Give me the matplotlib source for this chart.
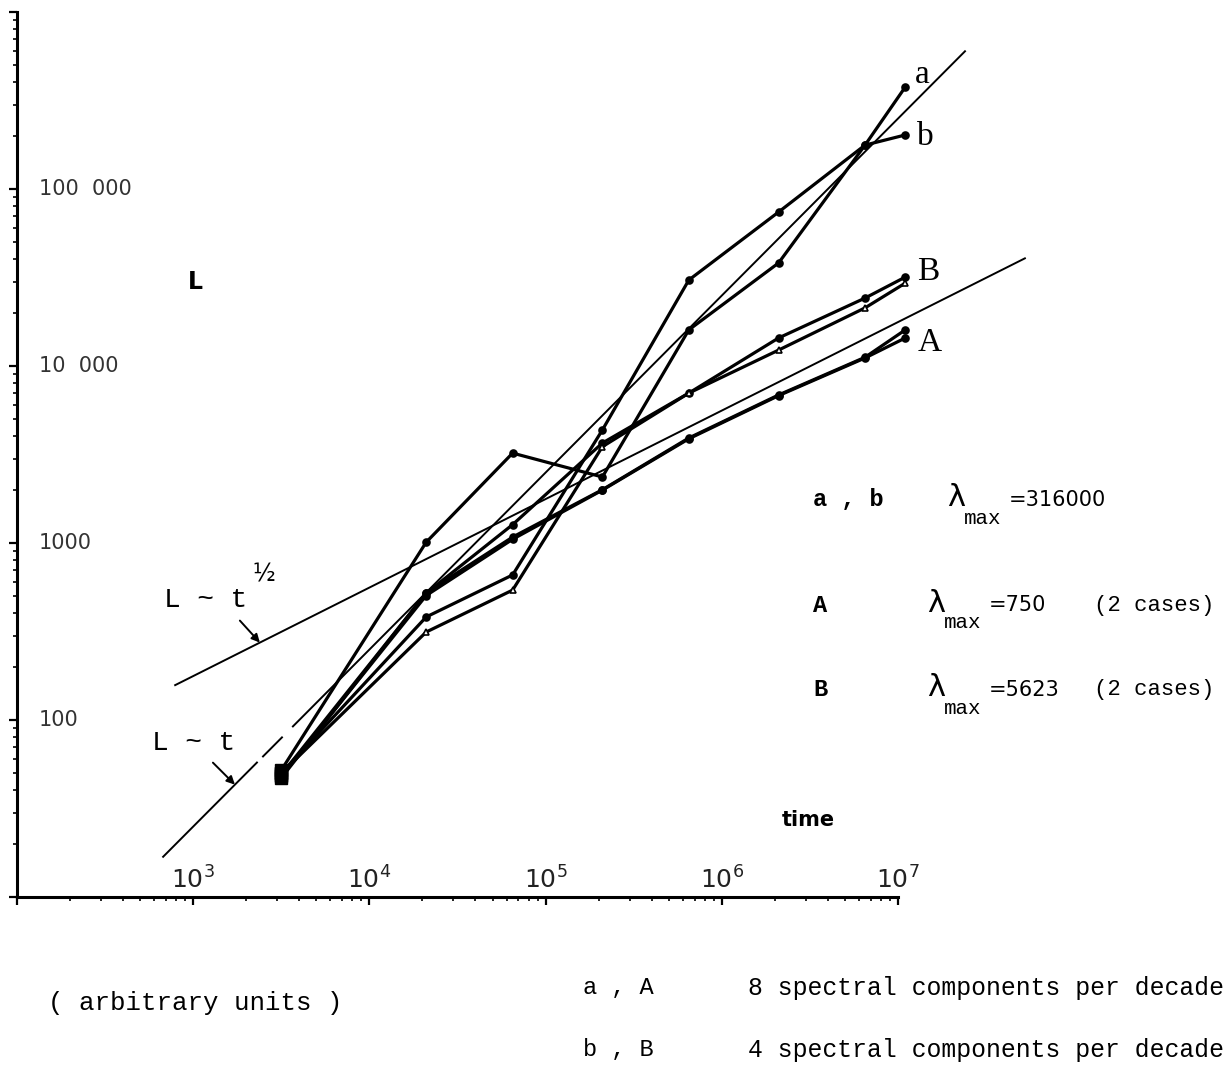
import numpy as np
import matplotlib.pyplot as plt
from matplotlib.transforms import blended_transform_factory
from matplotlib.ticker import LogLocator, NullFormatter

# sampling times (arbitrary units)
t = [3160, 21000, 65000, 210000, 650000, 2100000, 6500000, 11000000]

# length L of each run
L_a = [52, 1010, 3220, 2360, 16000, 38200, 177000, 377000]
L_b = [50, 382, 660, 4350, 30600, 74100, 177000, 202000]
L_A1 = [47, 523, 1080, 2000, 3920, 6860, 11200, 16000]
L_A2 = [48, 505, 1050, 1990, 3880, 6800, 11100, 14400]
L_B1 = [49, 520, 1270, 3670, 7030, 14400, 24200, 31800]
L_B2 = [50, 314, 542, 3500, 7030, 12300, 21300, 29400]

# reference laws  L = k t  and  L = c t^1/2
k_lin = 1 / 40
t_lin = [(675, 2300), (2490, 3190), (3680, 2.4e7)]
c_sqrt = 5.6
t_sqrt = (790, 5.25e7)

W, H = 1231, 1068
mono = 'Liberation Mono'


def px(x, y):
    return x / W, 1 - y / H


fig = plt.figure(figsize=(W / 100, H / 100), dpi=100)
ax = fig.add_axes([17 / W, 1 - 897 / H, 881 / W, 885 / H])
ax.set_xscale('log')
ax.set_yscale('log')
ax.set_xlim(1e2, 1e7)
ax.set_ylim(1e1, 1e6)
for s in ('top', 'right'):
    ax.spines[s].set_visible(False)
for s in ('left', 'bottom'):
    ax.spines[s].set_linewidth(2.2)
for axis in (ax.xaxis, ax.yaxis):
    axis.set_major_locator(LogLocator(10, numticks=10))
    axis.set_minor_locator(LogLocator(10, subs=np.arange(2, 10), numticks=100))
    axis.set_minor_formatter(NullFormatter())
ax.tick_params(which='major', length=6, width=1.6, direction='out',
               labelbottom=False, labelleft=False)
ax.tick_params(which='minor', length=3, width=1.2, direction='out')

# reference lines
for t0, t1 in t_lin:
    ax.plot([t0, t1], [k_lin * t0, k_lin * t1], color='black', lw=1.4, clip_on=False)
ax.plot(t_sqrt, [c_sqrt * v ** 0.5 for v in t_sqrt], color='black', lw=1.4, clip_on=False)

# simulated runs
runs = [(L_a, 'o', 'black'), (L_b, 'o', 'black'),
        (L_A1, 'o', 'black'), (L_A2, 'o', 'black'),
        (L_B1, 'o', 'black'), (L_B2, '^', 'white')]
for L, m, fc in runs:
    ax.plot(t, L, color='black', lw=2.3, marker=m, ms=5, mfc=fc, mew=1.2,
            clip_on=False, solid_joinstyle='round')
    ax.plot(t[0], L[0], 's', color='black', ms=8, clip_on=False)

# curve labels at the last point
for L, lab, off in [(L_a, 'a', (10, 12)), (L_b, 'b', (12, -2)),
                    (L_B1, 'B', (12, 5)), (L_A1, 'A', (12, -13))]:
    ax.annotate(lab, xy=(t[-1], L[-1]), xytext=off, textcoords='offset pixels',
                ha='left', va='center', family='Liberation Serif', fontsize=24,
                annotation_clip=False)

# law labels with arrows
arrow = dict(arrowstyle='-|>', color='black', lw=1.4, mutation_scale=12,
             shrinkA=0, shrinkB=0)
t_arr = 2390
ax.annotate('', xy=(t_arr, c_sqrt * t_arr ** 0.5), xytext=(-20, 22),
            textcoords='offset pixels', arrowprops=arrow)
fig.text(*px(247, 600), 'L ~ t', family=mono, fontsize=20, ha='right', va='center')
fig.text(*px(252, 574), '½', family='DejaVu Sans', fontsize=17, ha='left', va='center')
t_arr2 = 1725
ax.annotate('', xy=(t_arr2, k_lin * t_arr2), xytext=(-22, 22),
            textcoords='offset pixels', arrowprops=arrow)
fig.text(*px(235, 743), 'L ~ t', family=mono, fontsize=20, ha='right', va='center')

# axis tick labels drawn inside the frame
bx = blended_transform_factory(ax.transData, ax.transAxes)
for e in range(3, 8):
    ax.text(10.0 ** e, 0.004, r'$\mathregular{10^{%d}}$' % e, transform=bx,
            ha='center', va='bottom', fontsize=18, color='#222222')
by = blended_transform_factory(ax.transAxes, ax.transData)
for v, s in [(1e5, '100  000'), (1e4, '10  000'), (1e3, '1000'), (1e2, '100')]:
    ax.text(0.025, v, s, transform=by, ha='left', va='center',
            fontsize=15, color='#333333')

fig.text(*px(195, 282), 'L', fontsize=17, weight='bold', ha='center', va='center')
fig.text(*px(808, 820), 'time', fontsize=15, weight='bold', ha='center', va='center')

# legend block
rows = [(500, 'a , b', 947, '=316000', ''),
        (605, 'A', 927, '=750', '(2 cases)'),
        (690, 'B', 927, '=5623', '(2 cases)')]
for y, lab, xl, val, note in rows:
    fig.text(*px(813, y), lab, family=mono, fontsize=17, weight='bold', va='center')
    fig.text(*px(xl, y - 2), 'λ', family='DejaVu Sans', fontsize=22, va='center')
    fig.text(*px(xl + 17, y + 18), 'max', family=mono, fontsize=15, va='center')
    fig.text(*px(xl + 62, y), val, family='DejaVu Sans', fontsize=15, va='center')
    if note:
        fig.text(*px(1094, y), note, family=mono, fontsize=16, va='center')

fig.text(*px(48, 1003), '( arbitrary units )', family=mono, fontsize=18.5, va='center')
fig.text(*px(583, 988), 'a , A', family=mono, fontsize=17, va='center')
fig.text(*px(748, 988), '8 spectral components per decade', family=mono, fontsize=17.8, va='center')
fig.text(*px(583, 1050), 'b , B', family=mono, fontsize=17, va='center')
fig.text(*px(748, 1050), '4 spectral components per decade', family=mono, fontsize=17.8, va='center')

fig.savefig('out.png', dpi=100, facecolor='white')
